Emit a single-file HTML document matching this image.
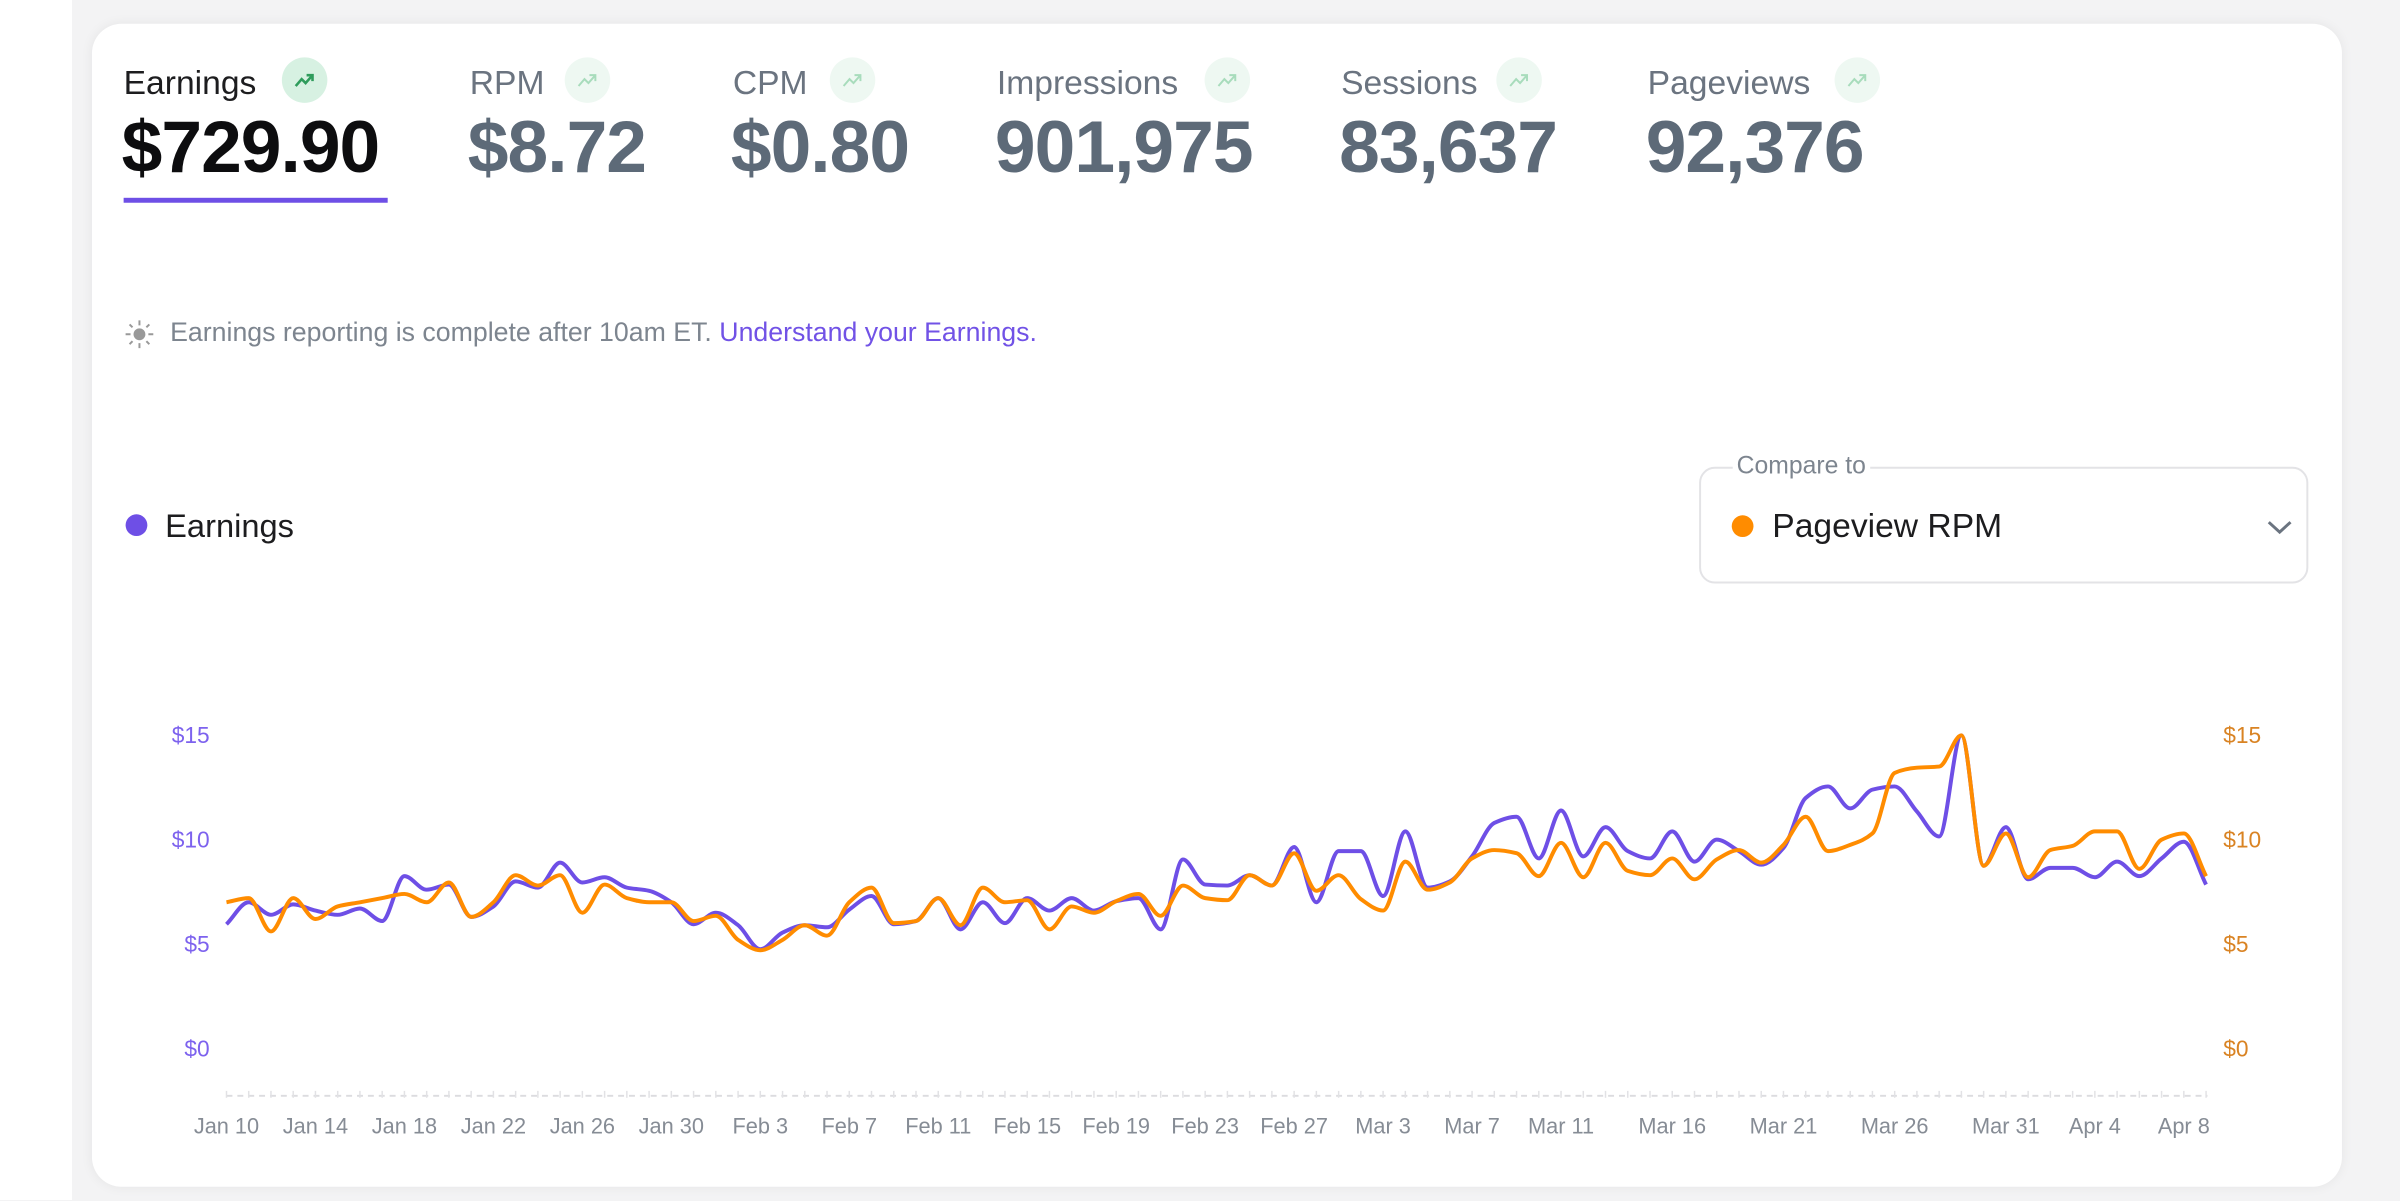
<!DOCTYPE html>
<html><head><meta charset="utf-8"><style>
*{margin:0;padding:0;box-sizing:border-box}
html,body{width:2400px;height:1200px;overflow:hidden;background:#f3f3f4;font-family:"Liberation Sans",sans-serif}
#leftw{position:absolute;left:0;top:0;width:72px;height:1200px;background:#fff}
#wrap{position:absolute;left:0;top:0;width:2427px;height:1214px;transform:scale(0.989);transform-origin:0 0}
#card{position:absolute;left:93px;top:24px;width:2275px;height:1176px;background:#fff;border-radius:30px;box-shadow:0 0 12px rgba(0,0,0,0.06)}
.a{position:absolute;white-space:nowrap}
.lab{font-size:34px;color:#6b7480;top:65px}
.val{font-size:74px;font-weight:bold;color:#5d6a78;top:106px;letter-spacing:-1px}
.ic{position:absolute;width:46px;height:46px;border-radius:50%;background:#eef8f2;top:58px}
.ic svg{position:absolute;left:11px;top:11px}
</style></head><body>
<div id="leftw"></div>
<div id="wrap">
<div id="card"></div>

<div class="a lab" style="left:125px;color:#1d1d1f">Earnings</div>
<div class="a lab" style="left:475px">RPM</div>
<div class="a lab" style="left:741px">CPM</div>
<div class="a lab" style="left:1008px">Impressions</div>
<div class="a lab" style="left:1356px">Sessions</div>
<div class="a lab" style="left:1666px">Pageviews</div>

<div class="ic" style="left:285px;background:#d7f1e2"><svg width="24" height="24" viewBox="0 0 24 24"><path d="M3 18 L9 11 L13 15 L20 7 M14 7 H20 V13" fill="none" stroke="#2f9c5c" stroke-width="2.6"/></svg></div>
<div class="ic" style="left:571px"><svg width="24" height="24" viewBox="0 0 24 24"><path d="M3 18 L9 11 L13 15 L20 7 M14 7 H20 V13" fill="none" stroke="#a8dcbc" stroke-width="2"/></svg></div>
<div class="ic" style="left:839px"><svg width="24" height="24" viewBox="0 0 24 24"><path d="M3 18 L9 11 L13 15 L20 7 M14 7 H20 V13" fill="none" stroke="#a8dcbc" stroke-width="2"/></svg></div>
<div class="ic" style="left:1218px"><svg width="24" height="24" viewBox="0 0 24 24"><path d="M3 18 L9 11 L13 15 L20 7 M14 7 H20 V13" fill="none" stroke="#a8dcbc" stroke-width="2"/></svg></div>
<div class="ic" style="left:1513px"><svg width="24" height="24" viewBox="0 0 24 24"><path d="M3 18 L9 11 L13 15 L20 7 M14 7 H20 V13" fill="none" stroke="#a8dcbc" stroke-width="2"/></svg></div>
<div class="ic" style="left:1855px"><svg width="24" height="24" viewBox="0 0 24 24"><path d="M3 18 L9 11 L13 15 L20 7 M14 7 H20 V13" fill="none" stroke="#a8dcbc" stroke-width="2"/></svg></div>

<div class="a val" style="left:123px;color:#0d0d0f">$729.90</div>
<div class="a val" style="left:473px">$8.72</div>
<div class="a val" style="left:739px">$0.80</div>
<div class="a val" style="left:1006px">901,975</div>
<div class="a val" style="left:1354px">83,637</div>
<div class="a val" style="left:1664px">92,376</div>
<div class="a" style="left:125px;top:200px;width:267px;height:5px;background:#6e4fe6"></div>

<svg class="a" style="left:126px;top:323px" width="30" height="30" viewBox="0 0 30 30"><circle cx="15" cy="15" r="6" fill="#999"/><g stroke="#999" stroke-width="2"><path d="M15 1V6M15 24V29M1 15H6M24 15H29M5 5L8 8M22 22L25 25M5 25L8 22M22 8L25 5"/></g></svg>
<div class="a" style="left:172px;top:321px;font-size:27px;color:#7d858f">Earnings reporting is complete after 10am ET. <span style="color:#7152e6">Understand your Earnings.</span></div>

<div class="a" style="left:127px;top:520px;width:22px;height:22px;border-radius:50%;background:#6e4fe6"></div>
<div class="a" style="left:167px;top:513px;font-size:33px;color:#1d1d1f">Earnings</div>

<div class="a" style="left:1718px;top:472px;width:616px;height:118px;border:2px solid #e3e3e6;border-radius:16px"></div>
<div class="a" style="left:1752px;top:457px;font-size:25px;color:#7d858f;background:#fff;padding:0 4px">Compare to</div>
<div class="a" style="left:1751px;top:521px;width:22px;height:22px;border-radius:50%;background:#ff8c00"></div>
<div class="a" style="left:1792px;top:513px;font-size:34px;color:#1d1d1f">Pageview RPM</div>
<svg class="a" style="left:2290px;top:523px" width="30" height="20" viewBox="0 0 30 20"><path d="M4 5 L15 15 L26 5" fill="none" stroke="#6b7480" stroke-width="3"/></svg>

<svg id="ch" class="a" style="left:0;top:0" width="2427" height="1214"></svg>
</div>
<script>
var P=[5.95,7.0,6.4,6.9,6.6,6.4,6.7,6.1,8.25,7.6,7.85,6.3,6.8,8.0,7.7,8.9,7.95,8.2,7.7,7.55,7.0,5.95,6.5,5.9,4.75,5.55,5.9,5.8,6.65,7.3,5.95,6.1,7.2,5.7,7.0,6.0,7.2,6.6,7.2,6.6,7.05,7.2,5.7,9.05,7.85,7.8,8.3,7.8,9.65,7.0,9.45,9.45,7.3,10.4,7.7,8.0,9.2,10.8,11.1,9.1,11.4,9.2,10.6,9.45,9.1,10.4,8.95,10.0,9.45,8.8,9.6,12.0,12.55,11.5,12.4,12.55,11.35,10.15,15.0,8.75,10.6,8.1,8.65,8.65,8.2,8.95,8.25,9.1,9.9,7.85];
var O=[7.0,7.2,5.6,7.2,6.2,6.8,7.0,7.2,7.4,7.0,7.95,6.3,7.0,8.3,7.8,8.3,6.5,7.85,7.2,7.0,7.0,6.1,6.35,5.2,4.7,5.2,5.9,5.4,7.0,7.7,6.0,6.1,7.2,5.9,7.7,7.0,7.1,5.7,6.8,6.5,7.05,7.4,6.35,7.8,7.2,7.1,8.3,7.8,9.35,7.55,8.3,7.15,6.6,8.95,7.6,7.95,9.1,9.5,9.35,8.25,9.85,8.2,9.85,8.5,8.3,9.1,8.1,9.05,9.5,8.9,9.75,11.1,9.45,9.75,10.3,13.2,13.45,13.5,15.0,8.75,10.3,8.2,9.5,9.7,10.4,10.4,8.6,10.0,10.3,8.25];
var X0=229,DX=22.49,Y0=1060,K=21.1;
function pts(a){return a.map(function(v,i){return [X0+i*DX,Y0-v*K]});}
function mono(p){var n=p.length,d=[],m=[];for(var i=0;i<n-1;i++)d.push((p[i+1][1]-p[i][1])/(p[i+1][0]-p[i][0]));
m[0]=d[0];m[n-1]=d[n-2];for(i=1;i<n-1;i++){if(d[i-1]*d[i]<=0)m[i]=0;else m[i]=2/(1/d[i-1]+1/d[i]);}
var s="M"+p[0][0].toFixed(1)+","+p[0][1].toFixed(1);
for(i=0;i<n-1;i++){var h=(p[i+1][0]-p[i][0])/3;s+="C"+(p[i][0]+h).toFixed(1)+","+(p[i][1]+m[i]*h).toFixed(1)+" "+(p[i+1][0]-h).toFixed(1)+","+(p[i+1][1]-m[i+1]*h).toFixed(1)+" "+p[i+1][0].toFixed(1)+","+p[i+1][1].toFixed(1);}
return s;}
var svg='';
svg+='<line x1="229" y1="1108" x2="2232" y2="1108" stroke="#dcdcdf" stroke-width="2" stroke-dasharray="6 5"/>';
for(var i=0;i<90;i++){svg+='<line x1="'+(X0+i*DX)+'" y1="1103" x2="'+(X0+i*DX)+'" y2="1110" stroke="#e2e2e5" stroke-width="1.5"/>';}
var yl=[[0,"$0"],[5,"$5"],[10,"$10"],[15,"$15"]];
yl.forEach(function(t){var y=Y0-t[0]*K+8;svg+='<text x="212" y="'+y+'" text-anchor="end" font-size="23" fill="#7d62ee" font-family="Liberation Sans">'+t[1]+'</text>';svg+='<text x="2248" y="'+y+'" font-size="23" fill="#d98323" font-family="Liberation Sans">'+t[1]+'</text>';});
var xl=[[0,"Jan 10"],[4,"Jan 14"],[8,"Jan 18"],[12,"Jan 22"],[16,"Jan 26"],[20,"Jan 30"],[24,"Feb 3"],[28,"Feb 7"],[32,"Feb 11"],[36,"Feb 15"],[40,"Feb 19"],[44,"Feb 23"],[48,"Feb 27"],[52,"Mar 3"],[56,"Mar 7"],[60,"Mar 11"],[65,"Mar 16"],[70,"Mar 21"],[75,"Mar 26"],[80,"Mar 31"],[84,"Apr 4"],[88,"Apr 8"]];
xl.forEach(function(t){svg+='<text x="'+(X0+t[0]*DX)+'" y="1146" text-anchor="middle" font-size="22" fill="#868c95" font-family="Liberation Sans">'+t[1]+'</text>';});
svg+='<path d="'+mono(pts(P))+'" fill="none" stroke="#6e4fe6" stroke-width="4" stroke-linejoin="round"/>';
svg+='<path d="'+mono(pts(O))+'" fill="none" stroke="#ff8c00" stroke-width="4" stroke-linejoin="round"/>';
document.getElementById('ch').innerHTML=svg;
</script>
</body></html>
